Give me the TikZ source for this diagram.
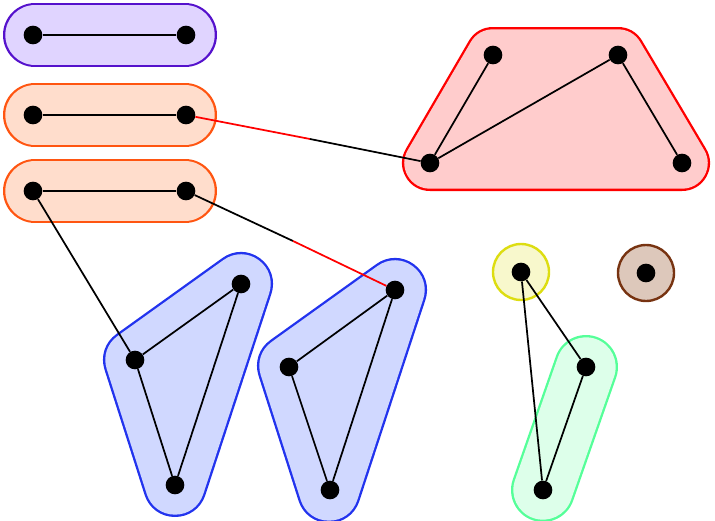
\documentclass[tikz,border=0pt]{standalone}
\begin{document}
\begin{tikzpicture}[x=0.75pt,y=-0.75pt,
  vtx/.style={circle,fill=black,inner sep=0pt,minimum size=14pt},
  edge/.style={line width=1.3pt},
  hullout/.style={draw=#1,line width=48pt,line join=round,line cap=round},
  hullin/.style={draw=#1,fill=#1,line width=44.5pt,line join=round,line cap=round}]
\useasboundingbox (0,0) rectangle (715,521);
% hulls
\definecolor{purpleL}{RGB}{224,212,255}\definecolor{purpleD}{RGB}{85,17,204}
\definecolor{orangeL}{RGB}{255,221,204}\definecolor{orangeD}{RGB}{255,85,17}
\definecolor{redL}{RGB}{255,204,204}
\definecolor{blueL}{RGB}{208,216,255}\definecolor{blueD}{RGB}{34,51,238}
\definecolor{greenL}{RGB}{221,255,234}\definecolor{greenD}{RGB}{85,255,153}
\definecolor{yellowL}{RGB}{248,248,204}\definecolor{yellowD}{RGB}{221,221,17}
\definecolor{brownL}{RGB}{221,200,187}\definecolor{brownD}{RGB}{119,51,17}
\foreach \y/\c in {35/purple,115/orange,191/orange}{
  \draw[hullout=\c D] (35,\y) -- (185,\y);
  \draw[hullin=\c L] (35,\y) -- (185,\y);}
\draw[hullout=red,line width=42pt] (493,55) -- (618,55) -- (682,163) -- (430,163) -- cycle;
\draw[hullin=redL,line width=38.5pt] (493,55) -- (618,55) -- (682,163) -- (430,163) -- cycle;
\foreach \a/\b/\d in {241/284/0,395/290/154}{
  \draw[hullout=blueD] (241+\d,284+\b-284) -- (135+\d,360+\b-284) -- (175+\d,485+\b-284) -- cycle;
  \draw[hullin=blueL] (241+\d,284+\b-284) -- (135+\d,360+\b-284) -- (175+\d,485+\b-284) -- cycle;}
\draw[hullout=greenD] (586,367) -- (543,490);
\draw[hullin=greenL] (586,367) -- (543,490);
\draw[yellowD,fill=yellowL,line width=1.8pt] (521,272) circle (28);
\draw[brownD,fill=brownL,line width=1.8pt] (646,273) circle (28);
% vertices
\node[vtx] (p1) at (33,35) {};  \node[vtx] (p2) at (186,35) {};
\node[vtx] (o1) at (33,115) {}; \node[vtx] (o2) at (186,115) {};
\node[vtx] (o3) at (33,191) {}; \node[vtx] (o4) at (186,191) {};
\node[vtx] (r1) at (493,55) {};  \node[vtx] (r2) at (618,55) {};
\node[vtx] (r3) at (430,163) {}; \node[vtx] (r4) at (682,163) {};
\node[vtx] (b1) at (241,284) {}; \node[vtx] (b2) at (135,360) {};
\node[vtx] (b3) at (175,485) {};
\node[vtx] (c1) at (395,290) {}; \node[vtx] (c2) at (289,367) {};
\node[vtx] (c3) at (330,490) {};
\node[vtx] (y1) at (521,272) {}; \node[vtx] (w1) at (646,273) {};
\node[vtx] (g1) at (586,367) {}; \node[vtx] (g2) at (543,490) {};
\coordinate (m1) at (310,139);
\coordinate (m2) at (293,241);
% edges
\draw[edge] (p1) -- (p2);
\draw[edge] (o1) -- (o2);
\draw[edge] (o3) -- (o4);
\draw[edge] (r3) -- (r1); \draw[edge] (r3) -- (r2); \draw[edge] (r2) -- (r4);
\draw[edge] (b1) -- (b2) -- (b3) -- (b1);
\draw[edge] (c1) -- (c2) -- (c3) -- (c1);
\draw[edge] (g1) -- (g2);
\draw[edge] (y1) -- (g1); \draw[edge] (y1) -- (g2);
\draw[edge] (o3) -- (b2);
\draw[edge,red] (o2) -- (m1); \draw[edge] (m1) -- (r3);
\draw[edge] (o4) -- (m2); \draw[edge,red] (m2) -- (c1);
\end{tikzpicture}
\end{document}
